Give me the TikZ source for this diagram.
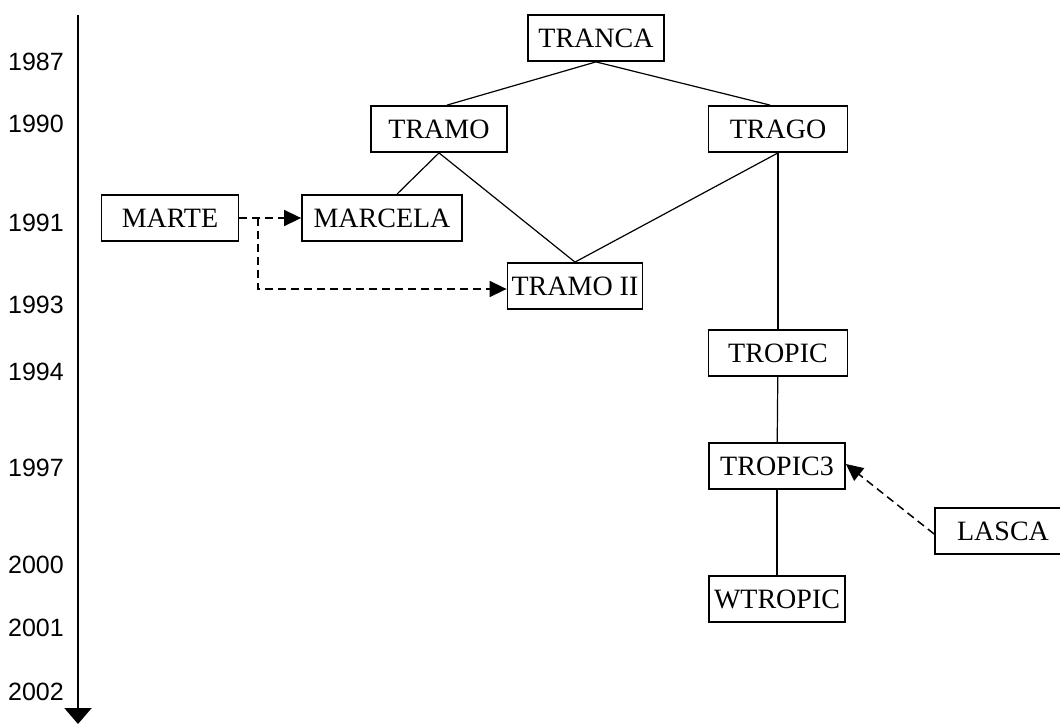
\documentclass[tikz,border=0pt]{standalone}
\usepackage{fontspec}
\setmainfont{Liberation Serif}
\newfontfamily\yearfont{Liberation Sans}
\usetikzlibrary{arrows.meta}
\begin{document}
\begin{tikzpicture}[x=1pt, y=-1pt,
    box/.style={draw, line width=1.8pt, minimum width=136pt, minimum height=46pt, inner sep=2pt, font=\fontsize{28}{30}\selectfont},
    year/.style={anchor=east, inner sep=0pt, font=\yearfont\fontsize{25}{27}\selectfont},
    link/.style={line width=1.2pt},
    dep/.style={line width=1.5pt, dash pattern=on 8pt off 5pt, -{Triangle[length=17pt, width=16pt]}}]
    \useasboundingbox (0,0) rectangle (1060,727);
    % time axis
    \coordinate (top) at (78,15);
    \coordinate (bottom) at (78,724);
    \draw[line width=2.2pt, -{Triangle[length=16pt, width=27pt]}] (top) -- (bottom);
    \node[year] (y1987) at (64,62) {1987};
    \node[year] (y1990) at (64,124) {1990};
    \node[year] (y1991) at (64,223) {1991};
    \node[year] (y1993) at (64,305) {1993};
    \node[year] (y1994) at (64,372) {1994};
    \node[year] (y1997) at (64,468) {1997};
    \node[year] (y2000) at (64,565) {2000};
    \node[year] (y2001) at (64,628) {2001};
    \node[year] (y2002) at (64,692) {2002};
    % systems
    \node[box] (tranca) at (596,38) {TRANCA};
    \node[box] (tramo) at (439,129) {TRAMO};
    \node[box, minimum width=139pt] (trago) at (778,129) {TRAGO};
    \node[box, minimum width=137pt] (marte) at (170,218) {MARTE};
    \node[box, minimum width=160pt] (marcela) at (382,218) {MARCELA};
    \node[box, minimum width=135pt] (tramoii) at (575,286) {TRAMO II};
    \node[box, minimum width=139pt] (tropic) at (778,353) {TROPIC};
    \node[box] (tropic3) at (777,466) {TROPIC3};
    \node[box] (lasca) at (1003,531) {LASCA};
    \node[box] (wtropic) at (777,599) {WTROPIC};
    \coordinate (split) at (258,218);
    \path (tranca.south) edge[link] ([xshift=8pt]tramo.north);
    \path (tranca.south) edge[link] ([xshift=-8pt]trago.north);
    \path (tramo.south) edge[link] ([xshift=15pt]marcela.north);
    \path (tramo.south) edge[link] (tramoii.north);
    \path (trago.south) edge[link] (tramoii.north);
    \path (trago.south) edge[link] (tropic.north);
    \path (tropic) edge[link] (tropic3);
    \path (tropic3) edge[link] (wtropic);
    \draw[dep] (marte) -- (marcela);
    \draw[dep] (split) |- ([yshift=-3pt]tramoii.west);
    \draw[dep] ([yshift=-3pt]lasca.west) -- ([yshift=2pt]tropic3.east);
\end{tikzpicture}
\end{document}
